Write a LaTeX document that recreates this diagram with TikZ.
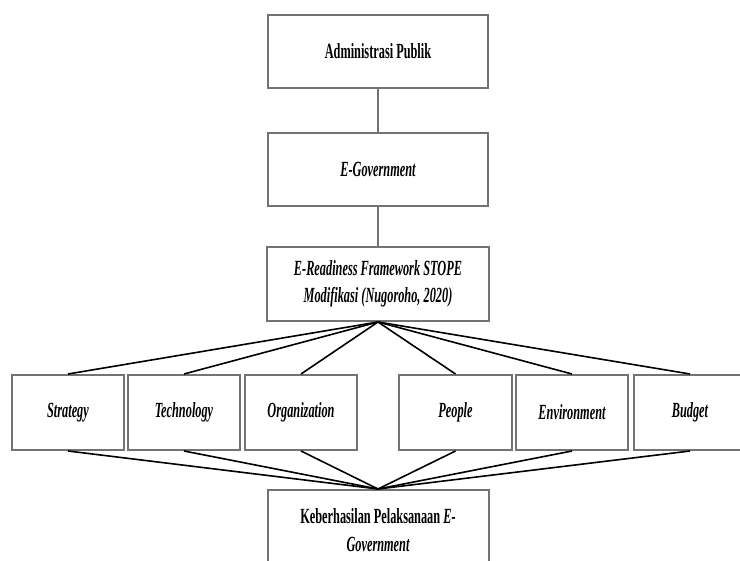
\documentclass[tikz,border=0pt]{standalone}
\usepackage{fontspec}
\setmainfont[FakeStretch=0.57]{Liberation Serif}
\usepackage{tikz}
\usetikzlibrary{positioning}

\begin{document}
\begin{tikzpicture}[x=0.5pt,y=-0.5pt,
    box/.style={draw=black!55,line width=1pt,fill=white,inner sep=0pt,
      align=center,font=\fontsize{10.8pt}{13.8pt}\selectfont\bfseries},
    bigbox/.style={box,minimum width=110pt,minimum height=36.5pt},
    itembox/.style={box,minimum width=56pt,minimum height=37.5pt,font=\fontsize{10.8pt}{13.8pt}\selectfont\bfseries\itshape},
    link/.style={draw=black!55,line width=1pt},
    fan/.style={draw=black,line width=0.8pt}]
        \useasboundingbox (0,0) rectangle (740,561);

        \node [bigbox] (adm) at (378,51.5) {Administrasi Publik};
        \node [bigbox] (egov) at (378,169.5) {\itshape E-Government};
        \node [bigbox,minimum width=111pt,minimum height=37pt] (stope) at (378,284)
          {\itshape E-Readiness Framework STOPE\\ \itshape Modifikasi (Nugoroho, 2020)};

        \node [itembox] (strategy) at (68,412.5) {Strategy};
        \node [itembox] (technology) at (184,412.5) {Technology};
        \node [itembox] (organization) at (301,412.5) {Organization};
        \node [itembox,minimum width=56.5pt] (people) at (455.5,412.5) {People};
        \node [itembox] (environment) at (572,412.5) {Environment};
        \node [itembox] (budget) at (690,412.5) {Budget};

        \node [bigbox,minimum width=110.5pt,minimum height=40pt] (success) at (378,530)
          {Keberhasilan Pelaksanaan \textit{E-}\\ \itshape Government};

        \draw [link] (adm) -- (egov);
        \draw [link] (egov) -- (stope);

        \draw [fan] (stope.south) -- (strategy.north);
        \draw [fan] (stope.south) -- (technology.north);
        \draw [fan] (stope.south) -- (organization.north);
        \draw [fan] (stope.south) -- (people.north);
        \draw [fan] (stope.south) -- (environment.north);
        \draw [fan] (stope.south) -- (budget.north);

        \draw [fan] (strategy.south) -- (success.north);
        \draw [fan] (technology.south) -- (success.north);
        \draw [fan] (organization.south) -- (success.north);
        \draw [fan] (people.south) -- (success.north);
        \draw [fan] (environment.south) -- (success.north);
        \draw [fan] (budget.south) -- (success.north);
      \end{tikzpicture}
\end{document}
